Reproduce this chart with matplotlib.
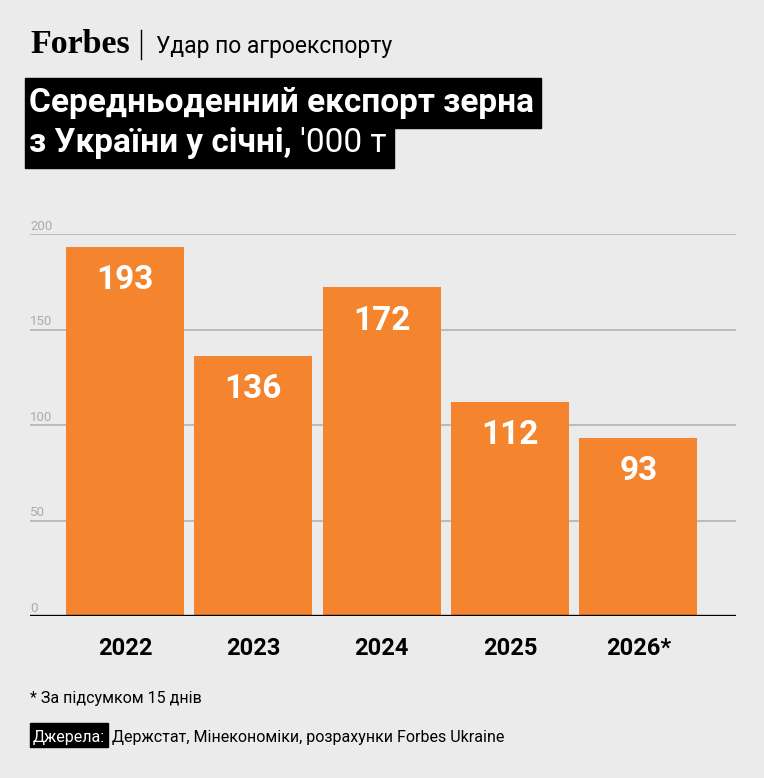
import matplotlib
matplotlib.use("Agg")
import matplotlib.pyplot as plt
from matplotlib.patches import Rectangle

years = ["2022", "2023", "2024", "2025", "2026*"]
values = [193, 136, 172, 112, 93]
yticks = [0, 50, 100, 150, 200]

BG = "#ebebeb"
ORANGE = "#f4842d"

plt.rcParams["font.family"] = ["Roboto", "DejaVu Sans"]

W, H = 764, 778
fig = plt.figure(figsize=(W / 100, H / 100), dpi=100, facecolor=BG)


def fx(x):
    return x / W


def fy(y):
    return 1 - y / H


# axes: left 30, right 736, zero at y=616, 200 at y=234
ax = fig.add_axes([fx(30), fy(616), (736 - 30) / W, (616 - 234) / H])
ax.set_facecolor(BG)
ax.set_xlim(-0.74, 4.76)
ax.set_ylim(0, 200)

for t in yticks[1:]:
    ax.axhline(t, color="#b8b8b8", lw=1.3, zorder=0)
for t in yticks:
    ax.text(-0.74, t + 2.2, str(t), color="#aaaaaa", fontsize=9.5,
            ha="left", va="baseline")

x = range(len(years))
ax.bar(x, values, width=0.92, color=ORANGE, zorder=2)
for i, v in zip(x, values):
    ax.text(i, v - 22, str(v), color="white", fontsize=24, fontweight="bold",
            ha="center", va="baseline", zorder=3)
ax.axhline(0, color="black", lw=2.4, zorder=4)

for s in ax.spines.values():
    s.set_visible(False)
ax.set_xticks([])
ax.set_yticks([])
for i, lab in zip(x, years):
    ax.text(i, -20.4, lab, fontsize=17, fontweight="bold", ha="center",
            va="baseline", clip_on=False)

# header
fig.text(fx(30), fy(53), "Forbes", family=["Liberation Serif", "DejaVu Serif"],
         fontsize=24.5, fontweight="bold", ha="left", va="baseline")
fig.add_artist(plt.Line2D([fx(141), fx(141)], [fy(30), fy(59)],
                          color="black", lw=1))
fig.text(fx(156), fy(53), "Удар по агроекспорту", fontsize=16.5,
         ha="left", va="baseline")

# title on black boxes
t1 = fig.text(fx(29), fy(112), "Середньоденний експорт зерна", color="white",
              fontsize=24, fontweight="bold", ha="left", va="baseline", zorder=5)
t2 = fig.text(fx(29), fy(152), "з України у січні, ", color="white",
              fontsize=24, fontweight="bold", ha="left", va="baseline", zorder=5)
fig.canvas.draw()
bb2 = t2.get_window_extent()
t3 = fig.text(bb2.x1 / W, fy(152), "'000 т", color="white",
              fontsize=24, ha="left", va="baseline", zorder=5)
fig.canvas.draw()
r1 = t1.get_window_extent().x1 + 7
r2 = t3.get_window_extent().x1 + 8
fig.add_artist(Rectangle((fx(25), fy(128)), (r1 - 25) / W, 50 / H,
                         transform=fig.transFigure, color="black", zorder=1))
fig.add_artist(Rectangle((fx(25), fy(168)), (r2 - 25) / W, 40 / H,
                         transform=fig.transFigure, color="black", zorder=1))

# footer
fig.text(fx(30), fy(703), "* За підсумком 15 днів", fontsize=11.5,
         ha="left", va="baseline")
src = fig.text(fx(33), fy(742), "Джерела:", color="white", fontsize=11.5,
               ha="left", va="baseline", zorder=5)
fig.canvas.draw()
sx = src.get_window_extent().x1
fig.add_artist(Rectangle((fx(30), fy(747)), (sx + 3 - 30) / W, 24 / H,
                         transform=fig.transFigure, color="black", zorder=1))
fig.text((sx + 7) / W, fy(742), "Держстат, Мінекономіки, розрахунки Forbes Ukraine",
         fontsize=11.5, ha="left", va="baseline")

fig.savefig("out.png", dpi=100, facecolor=BG)
